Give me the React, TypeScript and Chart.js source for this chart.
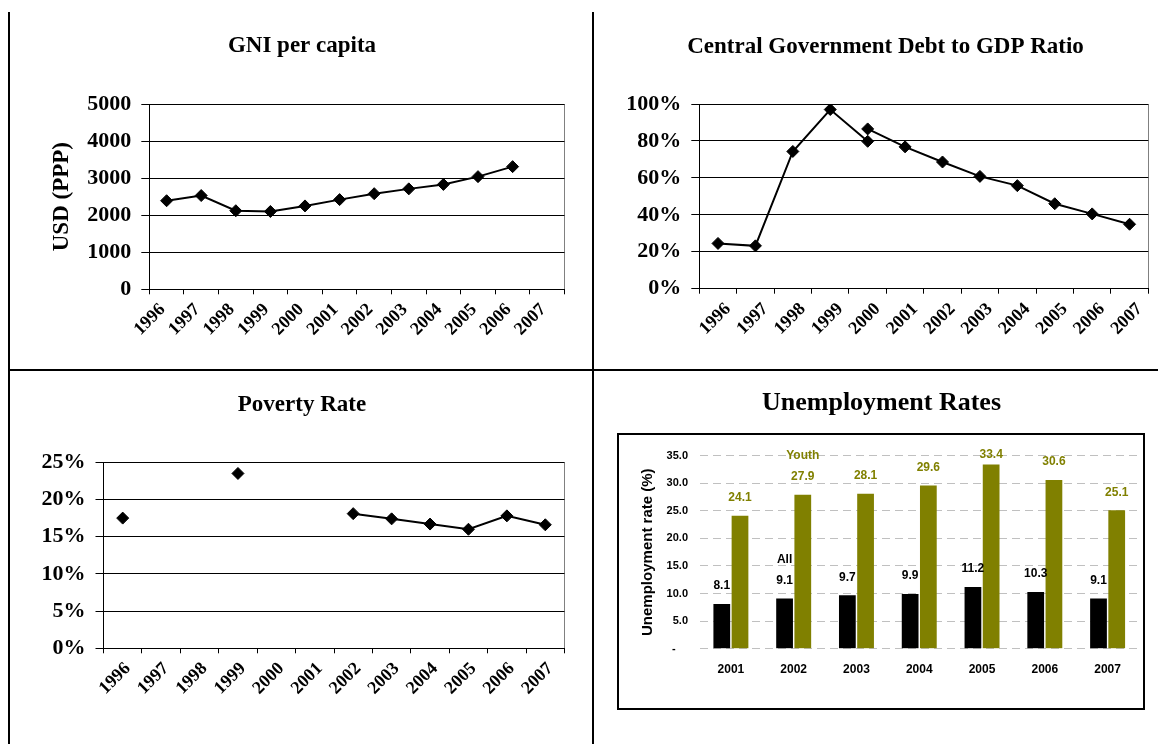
import React, { useEffect, useRef } from 'react';
import { Chart, registerables } from 'chart.js';

Chart.register(...registerables);

// ---------- data ----------
const years = ['1996', '1997', '1998', '1999', '2000', '2001', '2002', '2003', '2004', '2005', '2006', '2007'];
const gniPerCapita = [2390, 2530, 2120, 2100, 2250, 2420, 2580, 2710, 2830, 3040, 3310, null];
const gniTicks = [0, 1000, 2000, 3000, 4000, 5000];

const debtFirstSeries = [24.5, 23.2, 74.3, 97.0, 79.8, null, null, null, null, null, null, null];
const debtSecondSeries = [null, null, null, null, 86.5, 76.8, 68.6, 60.8, 55.8, 46.0, 40.5, 34.9];
const debtTicks = [0, 20, 40, 60, 80, 100];

const povertyRate = [17.5, null, null, 23.5, null, null, 18.1, 17.4, 16.7, 16.0, 17.8, 16.6];
const povertyTicks = [0, 5, 10, 15, 20, 25];

const unempYears = ['2001', '2002', '2003', '2004', '2005', '2006', '2007'];
const unempAll = [8.1, 9.1, 9.7, 9.9, 11.2, 10.3, 9.1];
const unempYouth = [24.1, 27.9, 28.1, 29.6, 33.4, 30.6, 25.1];
const unempTicks = [0, 5, 10, 15, 20, 25, 30, 35];
const seriesNameYear = '2002';

// ---------- styles ----------
const SERIF = '"Liberation Serif", "Times New Roman", serif';
const SANS = '"Liberation Sans", Arial, sans-serif';
const OLIVE = '#808000';

function lineDataset(data: (number | null)[]) {
  return {
    data,
    borderColor: '#000',
    backgroundColor: '#000',
    borderWidth: 2,
    pointStyle: 'rectRot',
    pointRadius: 6,
    pointBorderWidth: 1,
    pointBackgroundColor: '#000',
    pointBorderColor: '#000',
    spanGaps: false,
    tension: 0,
  };
}

type LineParams = {
  title: string;
  padL: number;
  padR: number;
  titleTop: number;
  titleBottom: number;
  yWidth: number;
  xHeight: number;
  yTicks: number[];
  fmt: (v: number) => string;
  labelOffset: number;
  yTitle?: string;
  yTitleTop?: number;
};

function lineConfig(datasets: any[], p: LineParams): any {
  return {
    type: 'line',
    data: { labels: years, datasets },
    options: {
      responsive: false,
      animation: false,
      layout: { padding: { left: p.padL, right: p.padR, top: 0, bottom: 0 } },
      plugins: {
        legend: { display: false },
        tooltip: { enabled: false },
        title: {
          display: true,
          text: p.title,
          color: '#000',
          font: { family: SERIF, size: 23, weight: 'bold' },
          padding: { top: p.titleTop, bottom: p.titleBottom },
        },
      },
      scales: {
        x: {
          type: 'category',
          offset: true,
          grid: {
            offset: true,
            color: (c: any) => (c.type === 'tick' ? 'rgba(0,0,0,0)' : '#808080'),
            tickColor: '#000',
            tickLength: 5,
            lineWidth: 1,
          },
          border: { display: true, color: '#000', width: 1 },
          ticks: {
            color: '#000',
            font: { family: SERIF, size: 18, weight: 'bold' },
            minRotation: 45,
            maxRotation: 45,
            autoSkip: false,
            padding: 5,
            labelOffset: p.labelOffset,
          },
          afterFit: (s: any) => {
            s.height = p.xHeight;
          },
        },
        y: {
          min: p.yTicks[0],
          max: p.yTicks[p.yTicks.length - 1],
          afterBuildTicks: (s: any) => {
            s.ticks = p.yTicks.map((v) => ({ value: v }));
          },
          grid: { color: '#000', tickColor: '#000', tickLength: 8, lineWidth: 1 },
          border: { display: true, color: '#000', width: 1 },
          ticks: {
            color: '#000',
            font: { family: SERIF, size: 22, weight: 'bold' },
            padding: 10,
            callback: (v: any) => p.fmt(Number(v)),
          },
          title: p.yTitle
            ? {
                display: true,
                text: p.yTitle,
                color: '#000',
                font: { family: SERIF, size: 23, weight: 'bold' },
                padding: { top: p.yTitleTop || 0, bottom: 0 },
              }
            : { display: false },
          afterFit: (s: any) => {
            s.width = p.yWidth;
          },
        },
      },
    },
  };
}

const barLabelPlugin = {
  id: 'barLabels',
  afterDatasetsDraw(chart: any) {
    const ctx = chart.ctx;
    ctx.save();
    ctx.font = `bold 12px ${SANS}`;
    ctx.textAlign = 'center';
    ctx.textBaseline = 'middle';
    chart.data.datasets.forEach((ds: any, di: number) => {
      const meta = chart.getDatasetMeta(di);
      meta.data.forEach((bar: any, i: number) => {
        const v = ds.data[i];
        ctx.fillStyle = ds.labelColor;
        const y = Math.max(bar.y - 18, chart.chartArea.top - 1);
        ctx.fillText(Number(v).toFixed(1), bar.x, y);
        if (chart.data.labels[i] === seriesNameYear) {
          ctx.fillText(ds.label, bar.x, y - 21);
        }
      });
    });
    ctx.restore();
  },
};

function unempConfig(): any {
  return {
    type: 'bar',
    data: {
      labels: unempYears,
      datasets: [
        { label: 'All', data: unempAll, backgroundColor: '#000', labelColor: '#000', categoryPercentage: 0.58, barPercentage: 0.92 },
        { label: 'Youth', data: unempYouth, backgroundColor: OLIVE, labelColor: OLIVE, categoryPercentage: 0.58, barPercentage: 0.92 },
      ],
    },
    plugins: [barLabelPlugin],
    options: {
      responsive: false,
      animation: false,
      layout: { padding: { left: 30, right: 19, top: 0, bottom: 0 } },
      plugins: {
        legend: { display: false },
        tooltip: { enabled: false },
        title: {
          display: true,
          text: 'Unemployment Rates',
          color: '#000',
          font: { family: SERIF, size: 26, weight: 'bold' },
          padding: { top: 16.4, bottom: 37.1 },
        },
      },
      scales: {
        x: {
          grid: { display: false, drawTicks: false },
          border: { display: false },
          ticks: {
            color: '#000',
            font: { family: SANS, size: 12, weight: 'bold' },
            padding: 14,
            maxRotation: 0,
            autoSkip: false,
          },
          afterFit: (s: any) => {
            s.height = 95.3;
          },
        },
        y: {
          min: 0,
          max: 35,
          afterBuildTicks: (s: any) => {
            s.ticks = unempTicks.map((v) => ({ value: v }));
          },
          grid: { color: '#c0c0c0', drawTicks: false, lineWidth: 1 },
          border: { display: false, dash: [8, 5] },
          ticks: {
            color: '#000',
            font: { family: SANS, size: 11, weight: 'bold' },
            padding: 11.5,
            callback: (v: any) => (Number(v) === 0 ? '-    ' : Number(v).toFixed(1)),
          },
          title: {
            display: true,
            text: 'Unemployment rate (%)',
            color: '#000',
            font: { family: SANS, size: 15, weight: 'bold' },
            padding: { top: 15, bottom: 0 },
          },
          afterFit: (s: any) => {
            s.width = 75.5;
          },
        },
      },
    },
  };
}

function ChartCanvas(props: { make: () => any; left: number; top: number; width: number; height: number }) {
  const ref = useRef<HTMLCanvasElement | null>(null);
  useEffect(() => {
    if (!ref.current) return;
    const chart = new Chart(ref.current, props.make());
    return () => chart.destroy();
  }, []);
  return (
    <canvas
      ref={ref}
      width={props.width}
      height={props.height}
      style={{ position: 'absolute', left: props.left, top: props.top, width: props.width, height: props.height, display: 'block' }}
    />
  );
}

export default function App() {
  return (
    <div style={{ position: 'absolute', left: 0, top: 0, width: 1158, height: 744, background: '#fff', overflow: 'hidden' }}>
      <ChartCanvas
        left={0}
        top={0}
        width={592}
        height={368}
        make={() =>
          lineConfig([lineDataset(gniPerCapita)], {
            title: 'GNI per capita',
            padL: 39.5,
            padR: 27.5,
            titleTop: 32.2,
            titleBottom: 44.2,
            yWidth: 109.8,
            xHeight: 78.7,
            yTicks: gniTicks,
            fmt: (v) => String(v),
            labelOffset: -4,
            yTitle: 'USD (PPP)',
            yTitleTop: 8.7,
          })
        }
      />
      <ChartCanvas
        left={594}
        top={0}
        width={564}
        height={369}
        make={() =>
          lineConfig([lineDataset(debtFirstSeries), lineDataset(debtSecondSeries)], {
            title: 'Central Government Debt to GDP Ratio',
            padL: 28.7,
            padR: 9.7,
            titleTop: 32.9,
            titleBottom: 43.5,
            yWidth: 76.6,
            xHeight: 80.3,
            yTicks: debtTicks,
            fmt: (v) => v + '%',
            labelOffset: 10,
          })
        }
      />
      <ChartCanvas
        left={0}
        top={371}
        width={592}
        height={373}
        make={() =>
          lineConfig([lineDataset(povertyRate)], {
            title: 'Poverty Rate',
            padL: 39.5,
            padR: 27.5,
            titleTop: 20.2,
            titleBottom: 43.5,
            yWidth: 64,
            xHeight: 95.7,
            yTicks: povertyTicks,
            fmt: (v) => v + '%',
            labelOffset: 5,
          })
        }
      />
      <ChartCanvas left={594} top={371} width={564} height={373} make={unempConfig} />
      {/* table frame */}
      <div style={{ position: 'absolute', left: 8, top: 12, width: 2, height: 732, background: '#000' }} />
      <div style={{ position: 'absolute', left: 592, top: 12, width: 2, height: 732, background: '#000' }} />
      <div style={{ position: 'absolute', left: 8, top: 369, width: 1150, height: 2, background: '#000' }} />
      {/* unemployment chart frame */}
      <div
        style={{
          position: 'absolute',
          left: 617,
          top: 433,
          width: 528,
          height: 277,
          border: '2px solid #000',
          boxSizing: 'border-box',
          pointerEvents: 'none',
        }}
      />
    </div>
  );
}
